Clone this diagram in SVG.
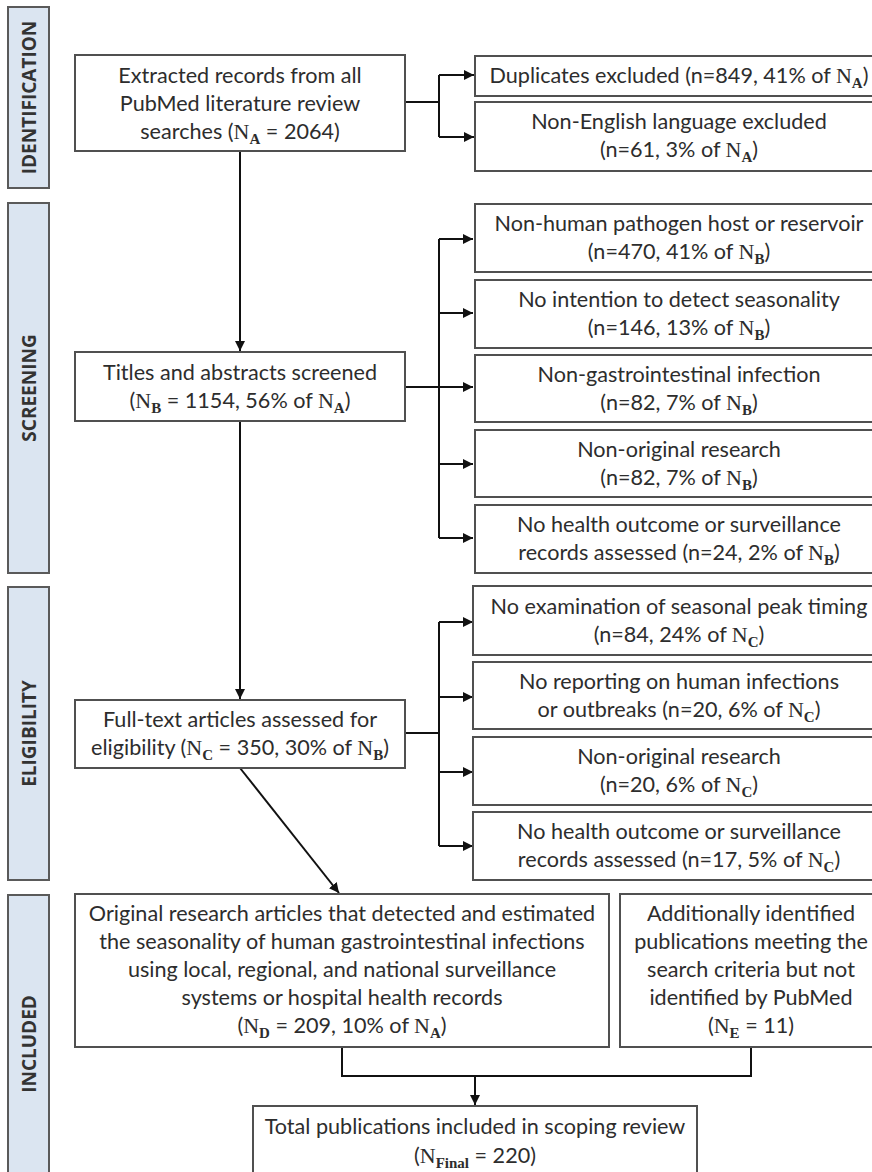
<svg xmlns="http://www.w3.org/2000/svg" width="872" height="1172" viewBox="0 0 872 1172">
<style>
.box{fill:#fff;stroke:#505050;stroke-width:2}
.lab{fill:#dbe5f1;stroke:#5a5a5a;stroke-width:2}
.t{font-family:Lato,"Liberation Sans",sans-serif;font-size:21.6px;fill:#2d2d2d;text-anchor:middle}
.lt{font-family:"Open Sans","Liberation Sans",sans-serif;font-size:19px;font-weight:bold;fill:#333;text-anchor:middle}
.n{font-family:"Liberation Serif",serif;font-size:22px}
.s{font-family:"Liberation Serif",serif;font-size:15px;font-weight:bold}
.c{fill:none;stroke:#111;stroke-width:2}
</style>
<defs>
<marker id="ah" viewBox="0 0 10 10" refX="10" refY="5" markerWidth="5" markerHeight="5" orient="auto" markerUnits="strokeWidth">
<path d="M0,0 L10,5 L0,10 z" fill="#111"/>
</marker>
</defs>
<rect width="872" height="1172" fill="#fff"/>

<g id="stage-identification">
<rect class="lab" x="8" y="7" width="41" height="181"/>
<text class="lt" transform="translate(29,97.5) rotate(-90)" dy="7">IDENTIFICATION</text>
</g>
<g id="stage-screening">
<rect class="lab" x="8" y="203" width="41" height="370"/>
<text class="lt" transform="translate(29,388) rotate(-90)" dy="7">SCREENING</text>
</g>
<g id="stage-eligibility">
<rect class="lab" x="8" y="587" width="41" height="293"/>
<text class="lt" transform="translate(29,733.5) rotate(-90)" dy="7">ELIGIBILITY</text>
</g>
<g id="stage-included">
<rect class="lab" x="8" y="895" width="41" height="300"/>
<text class="lt" transform="translate(29,1044) rotate(-90)" dy="7">INCLUDED</text>
</g>

<g id="connectors">
<path class="c" d="M405,102 H439 M439,75 V137"/>
<path class="c" d="M439,75 H474" marker-end="url(#ah)"/>
<path class="c" d="M439,137 H474" marker-end="url(#ah)"/>
<path class="c" d="M240,151 V351" marker-end="url(#ah)"/>
<path class="c" d="M405,387 H439 M439,239 V538"/>
<path class="c" d="M439,239 H473" marker-end="url(#ah)"/>
<path class="c" d="M439,313 H473" marker-end="url(#ah)"/>
<path class="c" d="M439,387 H473" marker-end="url(#ah)"/>
<path class="c" d="M439,464 H473" marker-end="url(#ah)"/>
<path class="c" d="M439,538 H473" marker-end="url(#ah)"/>
<path class="c" d="M240,421 V699" marker-end="url(#ah)"/>
<path class="c" d="M405,733 H439 M439,622 V846"/>
<path class="c" d="M439,622 H473" marker-end="url(#ah)"/>
<path class="c" d="M439,697 H473" marker-end="url(#ah)"/>
<path class="c" d="M439,772 H473" marker-end="url(#ah)"/>
<path class="c" d="M439,846 H473" marker-end="url(#ah)"/>
<path class="c" d="M240,768 L339,893" marker-end="url(#ah)"/>
<path class="c" d="M342,1047 V1076 H751 V1047"/>
<path class="c" d="M475,1076 V1105" marker-end="url(#ah)"/>
</g>

<g id="n-extracted">
<rect class="box" x="75" y="55" width="330" height="96"/>
<text class="t" x="240" y="83">Extracted records from all</text>
<text class="t" x="240" y="111">PubMed literature review</text>
<text class="t" x="240" y="139">searches (<tspan class="n">N</tspan><tspan class="s" dy="5">A</tspan><tspan dy="-5"> = 2064)</tspan></text>
</g>
<g id="n-duplicates">
<rect class="box" x="475" y="56" width="410" height="40"/>
<text class="t" x="679" y="83">Duplicates excluded (n=849, 41% of <tspan class="n">N</tspan><tspan class="s" dy="5">A</tspan><tspan dy="-5">)</tspan></text>
</g>
<g id="n-nonenglish">
<rect class="box" x="475" y="102" width="410" height="69"/>
<text class="t" x="679" y="129">Non-English language excluded</text>
<text class="t" x="679" y="157">(n=61, 3% of <tspan class="n">N</tspan><tspan class="s" dy="5">A</tspan><tspan dy="-5">)</tspan></text>
</g>

<g id="n-titles">
<rect class="box" x="75" y="352" width="330" height="69"/>
<text class="t" x="240" y="380">Titles and abstracts screened</text>
<text class="t" x="240" y="408">(<tspan class="n">N</tspan><tspan class="s" dy="5">B</tspan><tspan dy="-5"> = 1154, 56% of </tspan><tspan class="n">N</tspan><tspan class="s" dy="5">A</tspan><tspan dy="-5">)</tspan></text>
</g>
<g id="n-nonhuman">
<rect class="box" x="475" y="204" width="410" height="68"/>
<text class="t" x="679" y="231">Non-human pathogen host or reservoir</text>
<text class="t" x="679" y="259">(n=470, 41% of <tspan class="n">N</tspan><tspan class="s" dy="5">B</tspan><tspan dy="-5">)</tspan></text>
</g>
<g id="n-nointention">
<rect class="box" x="475" y="280" width="410" height="68"/>
<text class="t" x="679" y="307">No intention to detect seasonality</text>
<text class="t" x="679" y="335">(n=146, 13% of <tspan class="n">N</tspan><tspan class="s" dy="5">B</tspan><tspan dy="-5">)</tspan></text>
</g>
<g id="n-nongi">
<rect class="box" x="475" y="355" width="410" height="67"/>
<text class="t" x="679" y="382">Non-gastrointestinal infection</text>
<text class="t" x="679" y="410">(n=82, 7% of <tspan class="n">N</tspan><tspan class="s" dy="5">B</tspan><tspan dy="-5">)</tspan></text>
</g>
<g id="n-nonoriginal-b">
<rect class="box" x="475" y="430" width="410" height="67"/>
<text class="t" x="679" y="457">Non-original research</text>
<text class="t" x="679" y="485">(n=82, 7% of <tspan class="n">N</tspan><tspan class="s" dy="5">B</tspan><tspan dy="-5">)</tspan></text>
</g>
<g id="n-nohealth-b">
<rect class="box" x="475" y="505" width="410" height="68"/>
<text class="t" x="679" y="532">No health outcome or surveillance</text>
<text class="t" x="679" y="560">records assessed (n=24, 2% of <tspan class="n">N</tspan><tspan class="s" dy="5">B</tspan><tspan dy="-5">)</tspan></text>
</g>

<g id="n-fulltext">
<rect class="box" x="75" y="700" width="330" height="68"/>
<text class="t" x="240" y="727">Full-text articles assessed for</text>
<text class="t" x="240" y="755">eligibility  (<tspan class="n">N</tspan><tspan class="s" dy="5">C</tspan><tspan dy="-5"> = 350, 30% of </tspan><tspan class="n">N</tspan><tspan class="s" dy="5">B</tspan><tspan dy="-5">)</tspan></text>
</g>
<g id="n-noexam">
<rect class="box" x="473" y="586" width="412" height="69"/>
<text class="t" x="679" y="614">No examination of seasonal peak timing</text>
<text class="t" x="679" y="642">(n=84, 24% of <tspan class="n">N</tspan><tspan class="s" dy="5">C</tspan><tspan dy="-5">)</tspan></text>
</g>
<g id="n-noreporting">
<rect class="box" x="473" y="662" width="412" height="67"/>
<text class="t" x="679" y="689">No reporting on human infections</text>
<text class="t" x="679" y="717">or outbreaks (n=20, 6% of <tspan class="n">N</tspan><tspan class="s" dy="5">C</tspan><tspan dy="-5">)</tspan></text>
</g>
<g id="n-nonoriginal-c">
<rect class="box" x="473" y="737" width="412" height="68"/>
<text class="t" x="679" y="764">Non-original research</text>
<text class="t" x="679" y="792">(n=20, 6% of <tspan class="n">N</tspan><tspan class="s" dy="5">C</tspan><tspan dy="-5">)</tspan></text>
</g>
<g id="n-nohealth-c">
<rect class="box" x="473" y="812" width="412" height="68"/>
<text class="t" x="679" y="839">No health outcome or surveillance</text>
<text class="t" x="679" y="867">records assessed (n=17, 5% of <tspan class="n">N</tspan><tspan class="s" dy="5">C</tspan><tspan dy="-5">)</tspan></text>
</g>

<g id="n-original">
<rect class="box" x="75" y="894" width="534" height="153"/>
<text class="t" x="342" y="921">Original research articles that detected and estimated</text>
<text class="t" x="342" y="949">the seasonality of human gastrointestinal infections</text>
<text class="t" x="342" y="977">using local, regional, and national surveillance</text>
<text class="t" x="342" y="1005">systems or hospital health records</text>
<text class="t" x="342" y="1033">(<tspan class="n">N</tspan><tspan class="s" dy="5">D</tspan><tspan dy="-5"> = 209, 10% of </tspan><tspan class="n">N</tspan><tspan class="s" dy="5">A</tspan><tspan dy="-5">)</tspan></text>
</g>
<g id="n-additional">
<rect class="box" x="620" y="894" width="262" height="153"/>
<text class="t" x="751" y="921">Additionally identified</text>
<text class="t" x="751" y="949">publications meeting the</text>
<text class="t" x="751" y="977">search criteria but not</text>
<text class="t" x="751" y="1005">identified by PubMed</text>
<text class="t" x="751" y="1033">(<tspan class="n">N</tspan><tspan class="s" dy="5">E</tspan><tspan dy="-5"> = 11)</tspan></text>
</g>
<g id="n-total">
<rect class="box" x="253" y="1106" width="444" height="90"/>
<text class="t" x="475" y="1134">Total publications included in scoping review</text>
<text class="t" x="475" y="1163">(<tspan class="n">N</tspan><tspan class="s" dy="5">Final</tspan><tspan dy="-5"> = 220)</tspan></text>
</g>
</svg>
